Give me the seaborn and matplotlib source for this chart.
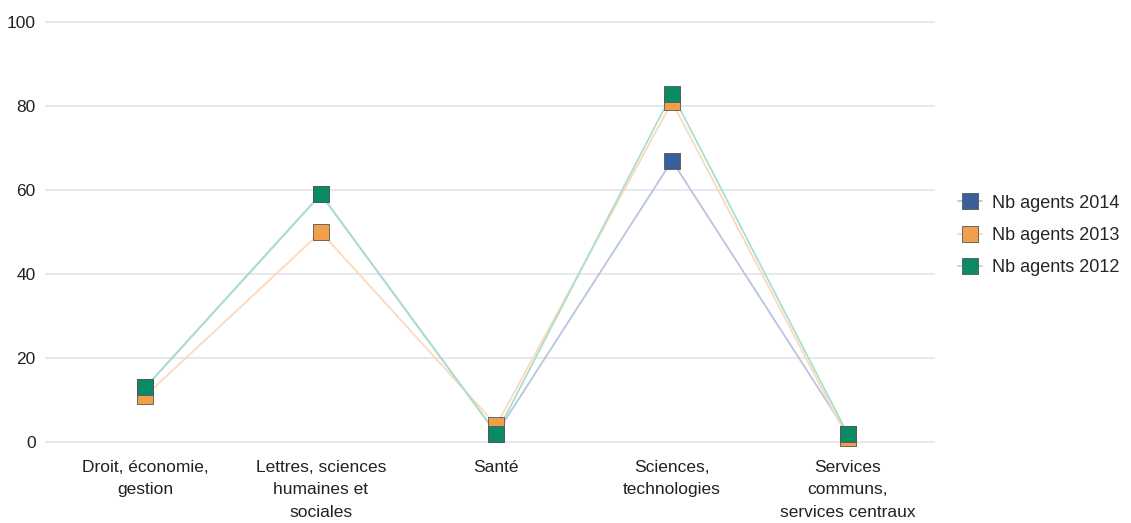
import matplotlib
matplotlib.use("Agg")
import matplotlib.pyplot as plt
import seaborn as sns
import pandas as pd
from matplotlib.lines import Line2D

categories = ["Droit, économie,\ngestion", "Lettres, sciences\nhumaines et\nsociales", "Santé",
              "Sciences,\ntechnologies", "Services\ncommuns,\nservices centraux"]
agents_2014 = [13, 59, 2, 67, 2]
agents_2013 = [11, 50, 4, 81, 1]
agents_2012 = [13, 59, 2, 83, 2]
series_names = ["Nb agents 2014", "Nb agents 2013", "Nb agents 2012"]
colors = ["#3b5f9a", "#f0a04c", "#0a8a66"]
line_colors = ["#b9c5dc", "#fcd9bb", "#a9dfcc"]
yticks = [0, 20, 40, 60, 80, 100]

sns.set_style("white")
plt.rcParams['font.family'] = ['Liberation Sans', 'DejaVu Sans']

fig = plt.figure(figsize=(11.31, 5.23), dpi=100)
ax = fig.add_axes([0.040, 0.150, 0.787, 0.810])

x = list(range(len(categories)))
for name, vals, c, lc in zip(series_names, [agents_2014, agents_2013, agents_2012], colors, line_colors):
    df = pd.DataFrame({"x": x, "y": vals})
    sns.lineplot(data=df, x="x", y="y", color=lc, linewidth=1.3, ax=ax, clip_on=False)
    sns.scatterplot(data=df, x="x", y="y", color=c, marker="s", s=140, edgecolor="#555555",
                    linewidth=0.6, ax=ax, clip_on=False, zorder=5)

ax.set_xlim(-0.57, 4.5)
ax.set_ylim(-0.6, 100.3)
ax.set_yticks(yticks)
ax.set_yticklabels([str(v) for v in yticks], fontsize=12.5, color="#222222")
ax.set_xticks(x)
ax.set_xticklabels(categories, fontsize=12.5, color="#222222", linespacing=1.62)
ax.tick_params(axis="x", length=0, pad=11)
ax.tick_params(axis="y", length=0, pad=7)
ax.grid(axis="y", color="#e3e3ea", linewidth=1.2)
ax.grid(axis="x", visible=False)
for s in ax.spines.values():
    s.set_visible(False)
ax.set_xlabel("")
ax.set_ylabel("")

handles = [Line2D([0], [0], color=lc, lw=1.3, marker="s", markersize=12,
                  markerfacecolor=c, markeredgecolor="#555555", markeredgewidth=0.6)
           for c, lc in zip(colors, line_colors)]
fig.legend(handles, series_names, loc="center left", bbox_to_anchor=(0.833, 0.55),
           frameon=False, fontsize=13, handlelength=1.3, labelspacing=0.85, handletextpad=0.55)

fig.savefig("out.png", dpi=100)
